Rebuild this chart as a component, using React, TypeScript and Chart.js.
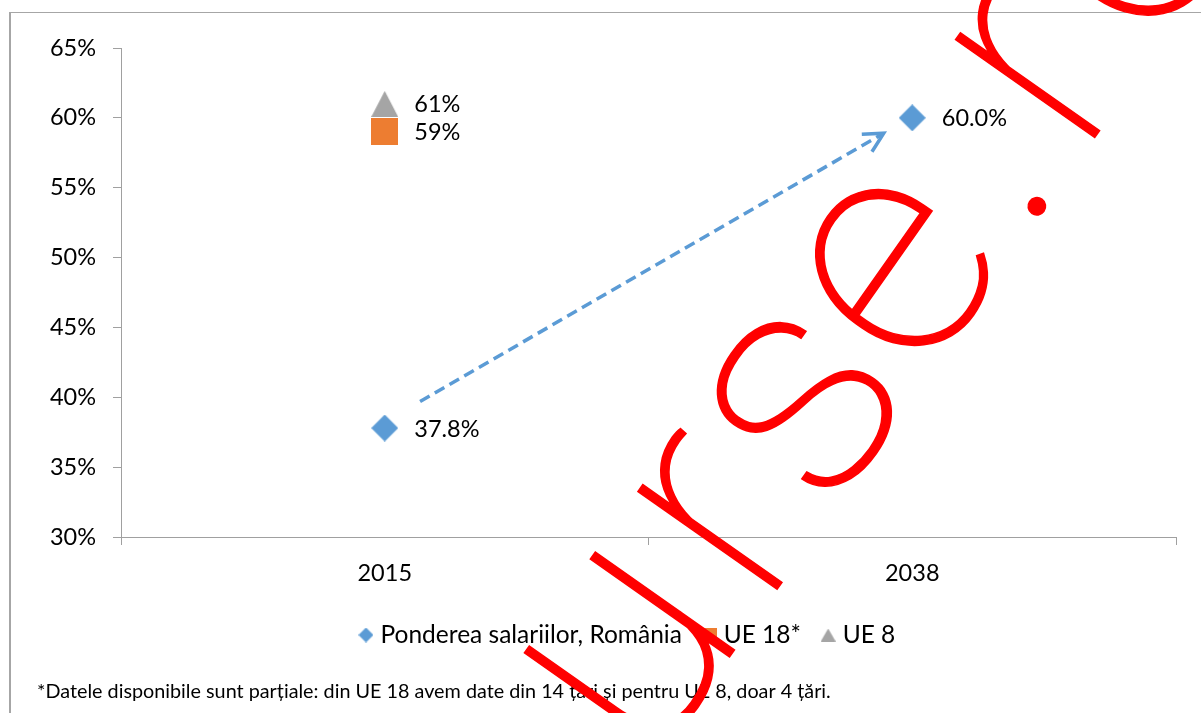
import React, { useEffect, useRef } from 'react';
import { Chart, registerables } from 'chart.js';

Chart.register(...registerables);

// ---- data ----
const categories = ['2015', '2038'];
const seriesNames = ['Ponderea salariilor, România', 'UE 18*', 'UE 8'];
const romaniaShare = [37.8, 60.0];
const ue18Share = [59, null];
const ue8Share = [61, null];
const labelDecimals = [1, 0, 0];
const yMin = 30;
const yMax = 65;
const yStep = 5;
// dashed arrow: [category index, value %]
const arrowFrom = [0.067, 39.7];
const arrowTo = [0.946, 58.9];
const footnote =
  '*Datele disponibile sunt parțiale: din UE 18 avem date din 14 țări și pentru UE 8, doar 4 țări.';
const watermark = 'urse.ro';

// ---- styles ----
const BLUE = '#5B9BD5';
const ORANGE = '#ED7D31';
const GREY = '#A5A5A5';
const AXIS = '#A0A0A0';
const FONT = 'Lato, "Open Sans", sans-serif';
const TICK_SIZE = 23.5;
const LEGEND_SIZE = 24.5;
const W = 1201;
const H = 713;
const PAD_LEFT = 48;
const PAD_RIGHT = -10;
const RIGHT_GAP = 35;
const PAD_TOP = 48;
const LEGEND_PAD = 25;
const PLOT_LEFT = 121;
const PLOT_BOTTOM = 537;
const LEGEND_CENTER = 635;
const X_AXIS_H = LEGEND_CENTER - PLOT_BOTTOM - LEGEND_PAD - LEGEND_SIZE / 2;
const LEGEND_H = LEGEND_SIZE + LEGEND_PAD + 10;

function makeMarker(shape: string, w: number, h: number, color: string) {
  const c = document.createElement('canvas');
  c.width = w;
  c.height = h;
  const g = c.getContext('2d')!;
  g.fillStyle = color;
  g.beginPath();
  if (shape === 'diamond') {
    g.moveTo(w / 2, 0);
    g.lineTo(w, h / 2);
    g.lineTo(w / 2, h);
    g.lineTo(0, h / 2);
  } else if (shape === 'triangle') {
    g.moveTo(w / 2, 0);
    g.lineTo(w, h);
    g.lineTo(0, h);
  } else {
    g.rect(0, 0, w, h);
  }
  g.closePath();
  g.fill();
  return c;
}

export default function App() {
  const ref = useRef<HTMLCanvasElement>(null);

  useEffect(() => {
    const canvas = ref.current!;
    const pointMarkers = [
      makeMarker('diamond', 27, 27, BLUE),
      makeMarker('square', 27, 27, ORANGE),
      makeMarker('triangle', 27, 26, GREY),
    ];
    const legendMarkers = [
      makeMarker('diamond', 15, 15, BLUE),
      makeMarker('square', 16, 15, ORANGE),
      makeMarker('triangle', 15, 13, GREY),
    ];
    const seriesValues = [romaniaShare, ue18Share, ue8Share];
    const colors = [BLUE, ORANGE, GREY];

    const bgPlugin = {
      id: 'bgBorder',
      beforeDraw(chart: any) {
        const ctx = chart.ctx;
        ctx.save();
        ctx.fillStyle = '#ffffff';
        ctx.fillRect(0, 0, chart.width, chart.height);
        ctx.fillStyle = '#A6A6A6';
        ctx.fillRect(9, 12, 2, chart.height);
        ctx.fillRect(9, 12, chart.width, 1);
        ctx.restore();
      },
    };

    const arrowPlugin = {
      id: 'arrow',
      afterDatasetsDraw(chart: any) {
        const ctx = chart.ctx;
        const xs = chart.scales.x;
        const ys = chart.scales.y;
        const x1 = xs.getPixelForValue(arrowFrom[0]);
        const y1 = ys.getPixelForValue(arrowFrom[1]);
        const x2 = xs.getPixelForValue(arrowTo[0]);
        const y2 = ys.getPixelForValue(arrowTo[1]);
        const ang = Math.atan2(y2 - y1, x2 - x1);
        ctx.save();
        ctx.strokeStyle = BLUE;
        ctx.lineWidth = 3.5;
        ctx.setLineDash([11, 6]);
        ctx.beginPath();
        ctx.moveTo(x1, y1);
        ctx.lineTo(x2 - 2 * Math.cos(ang), y2 - 2 * Math.sin(ang));
        ctx.stroke();
        ctx.setLineDash([]);
        ctx.lineCap = 'butt';
        ctx.lineJoin = 'miter';
        ctx.beginPath();
        ctx.moveTo(x2 - 22 * Math.cos(ang - 0.48), y2 - 22 * Math.sin(ang - 0.48));
        ctx.lineTo(x2, y2);
        ctx.lineTo(x2 - 22 * Math.cos(ang + 0.48), y2 - 22 * Math.sin(ang + 0.48));
        ctx.stroke();
        ctx.restore();
      },
    };

    const labelPlugin = {
      id: 'pointLabels',
      afterDatasetsDraw(chart: any) {
        const ctx = chart.ctx;
        ctx.save();
        ctx.font = `${TICK_SIZE}px ${FONT}`;
        ctx.fillStyle = '#000';
        ctx.textAlign = 'left';
        ctx.textBaseline = 'middle';
        chart.data.datasets.forEach((ds: any, i: number) => {
          const meta = chart.getDatasetMeta(i);
          meta.data.forEach((pt: any, j: number) => {
            const v = ds.data[j];
            if (v === null || v === undefined) return;
            ctx.fillText(v.toFixed(labelDecimals[i]) + '%', pt.x + 29.5, pt.y + 1);
          });
        });
        ctx.restore();
      },
    };

    const footnotePlugin = {
      id: 'footnote',
      afterDraw(chart: any) {
        const ctx = chart.ctx;
        ctx.save();
        ctx.font = `19.8px ${FONT}`;
        ctx.fillStyle = '#000';
        ctx.textAlign = 'left';
        ctx.textBaseline = 'middle';
        ctx.fillText(footnote, 37, 692);
        ctx.restore();
      },
    };

    const watermarkPlugin = {
      id: 'watermark',
      afterDraw(chart: any) {
        const ctx = chart.ctx;
        const angle = -0.958;
        const ox = 643;
        const oy = 780;
        ctx.save();
        ctx.translate(ox, oy);
        ctx.rotate(angle);
        ctx.fillStyle = '#FF0000';
        ctx.strokeStyle = '#FF0000';
        ctx.lineWidth = 1.5;
        ctx.textBaseline = 'alphabetic';
        ctx.textAlign = 'left';
        let pos = 0;
        for (const ch of watermark) {
          ctx.font = '390px "Liberation Serif"';
          const adv = ctx.measureText(ch).width;
          ctx.font = '100 322px Roboto';
          const w = ctx.measureText(ch).width;
          const x = pos + (adv - w) / 2;
          ctx.fillText(ch, x, 0);
          ctx.strokeText(ch, x, 0);
          pos += adv;
        }
        ctx.restore();
      },
    };

    const chart = new Chart(canvas, {
      type: 'line',
      data: {
        labels: categories,
        datasets: seriesValues.map((vals, i) => ({
          label: seriesNames[i],
          data: vals,
          showLine: false,
          pointStyle: pointMarkers[i],
          pointRadius: 13,
          pointHoverRadius: 13,
          backgroundColor: colors[i],
          borderColor: colors[i],
          borderWidth: 0,
        })),
      },
      options: {
        responsive: false,
        animation: false,
        events: [],
        devicePixelRatio: 1,
        layout: {
          padding: {
            left: PAD_LEFT,
            right: PAD_RIGHT,
            top: PAD_TOP,
            bottom: H - PLOT_BOTTOM - X_AXIS_H - LEGEND_H,
          },
        },
        scales: {
          x: {
            type: 'category',
            offset: true,
            afterFit: (s: any) => {
              s.height = X_AXIS_H;
            },
            grid: {
              offset: true,
              drawOnChartArea: false,
              drawTicks: true,
              tickLength: 8,
              color: AXIS,
              lineWidth: 1,
            },
            border: { display: true, color: AXIS, width: 1 },
            ticks: {
              padding: 14,
              maxRotation: 0,
              color: '#000',
              font: { family: FONT, size: TICK_SIZE },
            },
          },
          y: {
            min: yMin,
            max: yMax,
            afterFit: (s: any) => {
              s.width = PLOT_LEFT - PAD_LEFT;
            },
            grid: {
              drawOnChartArea: false,
              drawTicks: true,
              tickLength: 8,
              color: AXIS,
              lineWidth: 1,
            },
            border: { display: true, color: AXIS, width: 1 },
            ticks: {
              stepSize: yStep,
              padding: 17,
              color: '#000',
              font: { family: FONT, size: TICK_SIZE },
              callback: (v: any) => v + '%',
            },
          },
          yGap: {
            position: 'right',
            display: true,
            afterFit: (s: any) => {
              s.width = RIGHT_GAP;
            },
            grid: { display: false },
            border: { display: false },
            ticks: { display: false },
          },
        },
        plugins: {
          tooltip: { enabled: false },
          title: { display: false },
          legend: {
            display: true,
            position: 'bottom',
            labels: {
              usePointStyle: true,
              boxWidth: 29 - LEGEND_SIZE,
              boxHeight: 8,
              padding: LEGEND_PAD,
              color: '#000',
              font: { family: FONT, size: LEGEND_SIZE },
              generateLabels: (ch: any) =>
                ch.data.datasets.map((ds: any, i: number) => ({
                  text: ds.label,
                  pointStyle: legendMarkers[i],
                  fillStyle: colors[i],
                  strokeStyle: 'transparent',
                  lineWidth: 0,
                  hidden: false,
                  datasetIndex: i,
                  fontColor: '#000',
                })),
            },
          },
        },
      } as any,
      plugins: [bgPlugin, arrowPlugin, labelPlugin, footnotePlugin, watermarkPlugin],
    } as any);

    return () => chart.destroy();
  }, []);

  return (
    <div style={{ position: 'fixed', left: 0, top: 0, width: W, height: H, background: '#fff', overflow: 'hidden' }}>
      <canvas ref={ref} width={W} height={H} style={{ display: 'block', width: W, height: H }} />
    </div>
  );
}
